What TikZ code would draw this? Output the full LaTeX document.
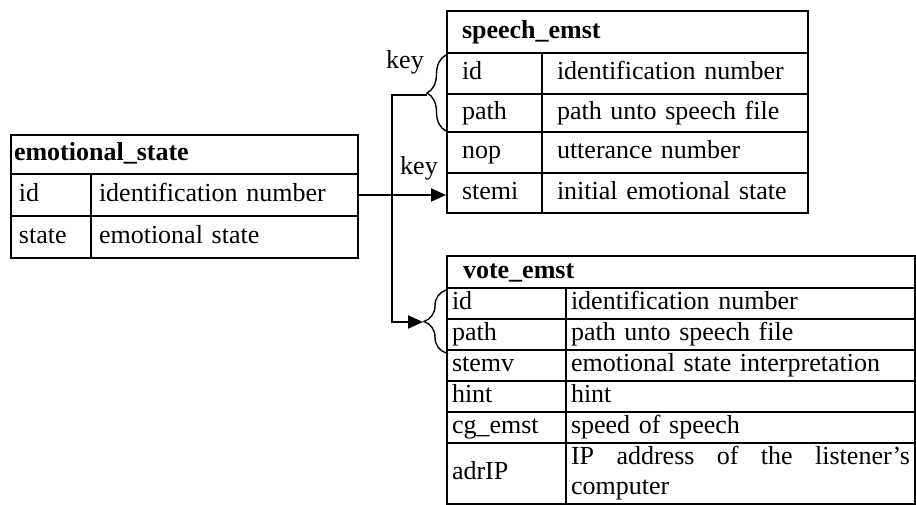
\documentclass[tikz,border=0pt]{standalone}
\usepackage{fontspec}
\setmainfont{Liberation Serif}
\usetikzlibrary{arrows.meta}
\usetikzlibrary{decorations.pathreplacing}

\newcommand{\tablefont}{\fontsize{26}{30}\selectfont}

\tikzset{
  box/.style={draw, line width=2pt, anchor=north west, inner ysep=0pt},
  cell/.style={box, align=left, text height=18pt, text depth=6pt},
  head/.style={cell, font=\tablefont\bfseries},
  link/.style={line width=2pt},
  keybrace/.style={decorate, decoration={brace, amplitude=#1}, line width=1.4pt},
}

\begin{document}
\begin{tikzpicture}[x=1pt, y=-1pt, font=\tablefont]
    \useasboundingbox (0,0) rectangle (916,504);

    % Table emotional_state
    \node[head, inner xsep=3pt, text width=341pt, minimum height=39pt] (es-head) at (10,134) {emotional\_state};
    \begin{scope}[inner xsep=8pt, minimum height=42pt]
        \node[cell, text width=64pt] (es-id-k) at (10,173) {id};
        \node[cell, text width=251pt] (es-id-v) at (90,173) {identification number};
        \node[cell, text width=64pt] (es-st-k) at (10,215) {state};
        \node[cell, text width=251pt] (es-st-v) at (90,215) {emotional state};
    \end{scope}

    % Table speech_emst
    \node[head, inner xsep=15pt, text width=331pt, minimum height=42pt] (sp-head) at (446,10) {speech\_emst};
    \begin{scope}[inner xsep=15pt]
        \node[cell, text width=65pt, minimum height=41pt] (sp-id-k) at (446,52) {id};
        \node[cell, text width=236pt, minimum height=41pt] (sp-id-v) at (541,52) {identification number};
        \node[cell, text width=65pt, minimum height=38pt] (sp-path-k) at (446,93) {path};
        \node[cell, text width=236pt, minimum height=38pt] (sp-path-v) at (541,93) {path unto speech file};
        \node[cell, text width=65pt, minimum height=41pt] (sp-nop-k) at (446,131) {nop};
        \node[cell, text width=236pt, minimum height=41pt] (sp-nop-v) at (541,131) {utterance number};
        \node[cell, text width=65pt, minimum height=40pt] (sp-stemi-k) at (446,172) {stemi};
        \node[cell, text width=236pt, minimum height=40pt] (sp-stemi-v) at (541,172) {initial emotional state};
    \end{scope}

    % Table vote_emst
    \node[head, inner xsep=16pt, text width=436pt, minimum height=32pt] (vt-head) at (446,255) {vote\_emst};
    \begin{scope}[inner xsep=5pt, minimum height=31pt]
        \node[cell, text width=109pt] (vt-id-k) at (446,287) {id};
        \node[cell, text width=339pt] (vt-id-v) at (565,287) {identification number};
        \node[cell, text width=109pt] (vt-path-k) at (446,318) {path};
        \node[cell, text width=339pt] (vt-path-v) at (565,318) {path unto speech file};
        \node[cell, text width=109pt] (vt-stemv-k) at (446,349) {stemv};
        \node[cell, text width=339pt] (vt-stemv-v) at (565,349) {emotional state interpretation};
        \node[cell, text width=109pt] (vt-hint-k) at (446,380) {hint};
        \node[cell, text width=339pt] (vt-hint-v) at (565,380) {hint};
        \node[cell, text width=109pt] (vt-cg-k) at (446,411) {cg\_emst};
        \node[cell, text width=339pt] (vt-cg-v) at (565,411) {speed of speech};
        \node[cell, text width=109pt, minimum height=61pt] (vt-ip-k) at (446,442) {adrIP};
        \node[box, text width=339pt, minimum height=61pt, align=justify] (vt-ip-v) at (565,442)
            {\emergencystretch=3em IP address of the listener's \mbox{computer}};
    \end{scope}

    % Accolades des cles
    \draw[keybrace=19pt] ([yshift=2pt]sp-path-k.south west) -- ([yshift=-3pt]sp-id-k.north west);
    \draw[keybrace=22pt] ([yshift=-2pt]vt-path-k.south west) -- ([yshift=-3pt]vt-id-k.north west);
    \coordinate (sp-key) at ([xshift=-19pt]sp-id-k.south west);
    \coordinate (vt-key) at ([xshift=-23pt,yshift=-2pt]vt-id-k.south west);

    % Etiquettes
    \node (lbl-sp) at (405,62) {key};
    \node (lbl-es) at (419,168) {key};

    % Liaisons
    \draw[link,-{Triangle[length=15pt,width=13pt]}] (es-id-v.east) -- (es-id-v.east -| sp-stemi-k.west);
    \draw[link,-{Triangle[length=15pt,width=13pt]}] (sp-key) -| ([xshift=-31pt]vt-key) -- (vt-key);
\end{tikzpicture}
\end{document}
